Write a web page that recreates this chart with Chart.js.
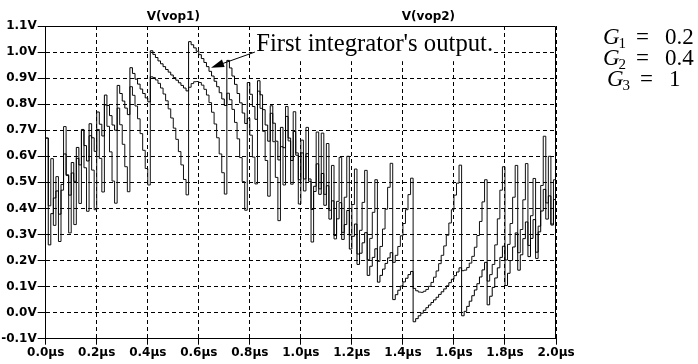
<!DOCTYPE html>
<html>
<head>
<meta charset="utf-8">
<script src="https://cdn.jsdelivr.net/npm/chart.js@4.4.1/dist/chart.umd.min.js"></script>
<style>
  html, body { margin: 0; padding: 0; background: #ffffff; }
  #wrap { width: 698px; height: 364px; position: relative; }
</style>
</head>
<body>
<div id="wrap"><canvas id="c"></canvas></div>
<script>
// Simulation sample period in microseconds (one held value per clock)
const STEP_US = 0.01;

// First integrator output, one value per clock period (V)
const vop1 = [
  0.670, 0.260, 0.380, 0.440, 0.467, 0.378, 0.492, 0.609, 0.529, 0.451,
  0.576, 0.504, 0.634, 0.567, 0.703, 0.641, 0.582, 0.725, 0.671, 0.619,
  0.770, 0.723, 0.678, 0.835, 0.795, 0.756, 0.720, 0.700, 0.872, 0.841,
  0.812, 0.785, 0.760, 0.940, 0.918, 0.896, 0.877, 0.858, 0.841, 0.824,
  0.809, 1.005, 0.991, 0.979, 0.966, 0.955, 0.944, 0.933, 0.923, 0.912,
  0.902, 0.892, 0.882, 0.872, 0.862, 0.851, 1.040, 1.028, 1.016, 1.003,
  0.990, 0.975, 0.960, 0.944, 0.926, 0.908, 0.888, 0.867, 0.844, 0.820,
  0.795, 0.968, 0.939, 0.908, 0.876, 0.841, 0.805, 0.766, 0.726, 0.883,
  0.838, 0.791, 0.742, 0.890, 0.836, 0.779, 0.720, 0.658, 0.794, 0.727,
  0.658, 0.586, 0.711, 0.633, 0.753, 0.670, 0.584, 0.695, 0.604, 0.510,
  0.613, 0.513, 0.610, 0.504, 0.396, 0.485, 0.571, 0.454, 0.534, 0.412,
  0.487, 0.359, 0.429, 0.296, 0.360, 0.422, 0.281, 0.338, 0.392, 0.244,
  0.293, 0.340, 0.185, 0.228, 0.268, 0.307, 0.143, 0.178, 0.212, 0.245,
  0.117, 0.143, 0.167, 0.189, 0.210, 0.230, 0.050, 0.069, 0.086, 0.102,
  0.118, 0.132, 0.146, 0.158, -0.035, -0.023, -0.012, -0.002, 0.009, 0.019,
  0.029, 0.039, 0.049, 0.059, 0.070, 0.080, 0.091, 0.103, 0.115, 0.128,
  0.142, 0.156, 0.172, -0.012, 0.005, 0.024, 0.044, 0.065, 0.087, 0.111,
  0.137, 0.164, 0.193, 0.030, 0.063, 0.097, 0.133, 0.172, 0.212, 0.255,
  0.104, 0.151, 0.200, 0.252, 0.306, 0.163, 0.222, 0.284, 0.348, 0.215,
  0.285, 0.357, 0.232, 0.310, 0.390, 0.473, 0.359, 0.448, 0.340, 0.434,
  0.331
];

// Second integrator output, one value per clock period (V)
const vop2 = [
  0.670, 0.410, 0.591, 0.335, 0.522, 0.273, 0.470, 0.714, 0.526, 0.306,
  0.536, 0.338, 0.592, 0.419, 0.700, 0.556, 0.389, 0.679, 0.547, 0.395,
  0.703, 0.592, 0.463, 0.797, 0.715, 0.617, 0.505, 0.420, 0.785, 0.721,
  0.646, 0.560, 0.464, 0.867, 0.834, 0.793, 0.744, 0.687, 0.623, 0.553,
  0.490, 0.905, 0.902, 0.893, 0.880, 0.862, 0.839, 0.813, 0.782, 0.747,
  0.708, 0.665, 0.618, 0.567, 0.511, 0.452, 0.865, 0.879, 0.886, 0.887,
  0.883, 0.873, 0.857, 0.835, 0.806, 0.769, 0.724, 0.671, 0.609, 0.537,
  0.455, 0.842, 0.817, 0.780, 0.730, 0.667, 0.595, 0.503, 0.393, 0.746,
  0.681, 0.597, 0.494, 0.850, 0.784, 0.696, 0.584, 0.447, 0.765, 0.656,
  0.519, 0.353, 0.637, 0.490, 0.791, 0.659, 0.493, 0.771, 0.613, 0.417,
  0.662, 0.467, 0.711, 0.513, 0.271, 0.465, 0.693, 0.475, 0.689, 0.454,
  0.649, 0.393, 0.565, 0.283, 0.427, 0.596, 0.308, 0.443, 0.600, 0.298,
  0.415, 0.551, 0.225, 0.316, 0.423, 0.546, 0.203, 0.285, 0.385, 0.510,
  0.197, 0.254, 0.321, 0.397, 0.481, 0.573, 0.193, 0.220, 0.254, 0.295,
  0.342, 0.395, 0.453, 0.516, 0.093, 0.084, 0.079, 0.078, 0.082, 0.089,
  0.101, 0.116, 0.136, 0.160, 0.188, 0.220, 0.256, 0.297, 0.344, 0.395,
  0.451, 0.497, 0.566, 0.161, 0.163, 0.173, 0.190, 0.216, 0.251, 0.296,
  0.350, 0.425, 0.510, 0.121, 0.146, 0.185, 0.260, 0.360, 0.470, 0.560,
  0.202, 0.262, 0.342, 0.443, 0.565, 0.230, 0.319, 0.433, 0.572, 0.258,
  0.372, 0.515, 0.208, 0.332, 0.488, 0.677, 0.421, 0.600, 0.336, 0.510,
  0.242
];

const traceNames = ['V(vop1)', 'V(vop2)'];
const gainRows = [
  { idx: '1', value: '0.2' },
  { idx: '2', value: '0.4' },
  { idx: '3', value: '1' }
];
const noteText = "First integrator's output.";
const timeUnit = 'µs';
const voltUnit = 'V';

// Sample instants (µs) for each held value
const time = vop1.map((_, i) => Math.round(i * STEP_US * 1000) / 1000);
const toPoints = arr => arr.map((v, i) => ({ x: time[i], y: v }));

const tickFont = { family: '"DejaVu Sans"', size: 12, weight: 'bold' };

const overlay = {
  id: 'overlay',
  beforeDatasetsDraw(chart) {
    const { ctx, chartArea: a, scales: { x, y } } = chart;
    ctx.save();
    // blank panel that carries the annotation text over the grid
    const bx0 = x.getPixelForValue(0.81);
    const bx1 = x.getPixelForValue(1.755);
    const by1 = y.getPixelForValue(0.965);
    ctx.fillStyle = '#ffffff';
    ctx.fillRect(bx0, a.top + 1, bx1 - bx0, by1 - a.top - 1);
    ctx.fillStyle = '#000000';
    ctx.font = '24.7px "Liberation Serif"';
    ctx.textAlign = 'left';
    ctx.textBaseline = 'alphabetic';
    ctx.fillText(noteText, x.getPixelForValue(0.825), y.getPixelForValue(1.0) - 1);
    ctx.restore();
  },
  afterDatasetsDraw(chart) {
    const { ctx, scales: { x, y } } = chart;
    // arrow from the note to the first integrator trace
    const x0 = x.getPixelForValue(0.82), y0 = y.getPixelForValue(1.0);
    const x1 = x.getPixelForValue(0.648), y1 = y.getPixelForValue(0.94);
    const ang = Math.atan2(y1 - y0, x1 - x0);
    const len = 13, half = 4;
    ctx.save();
    ctx.strokeStyle = '#000';
    ctx.fillStyle = '#000';
    ctx.lineWidth = 1;
    ctx.beginPath();
    ctx.moveTo(x0, y0);
    ctx.lineTo(x1 - Math.cos(ang) * len * 0.6, y1 - Math.sin(ang) * len * 0.6);
    ctx.stroke();
    ctx.beginPath();
    ctx.moveTo(x1, y1);
    ctx.lineTo(x1 - Math.cos(ang) * len - Math.sin(ang) * half, y1 - Math.sin(ang) * len + Math.cos(ang) * half);
    ctx.lineTo(x1 - Math.cos(ang) * len + Math.sin(ang) * half, y1 - Math.sin(ang) * len - Math.cos(ang) * half);
    ctx.closePath();
    ctx.fill();
    ctx.restore();
  },
  afterDraw(chart) {
    const { ctx, chartArea: a, scales: { x } } = chart;
    ctx.save();
    // frame: top and right edges of the plot
    ctx.strokeStyle = '#000';
    ctx.lineWidth = 1;
    ctx.beginPath();
    const top = Math.round(a.top) + 0.5;
    const right = Math.round(a.right) - 0.5;
    ctx.moveTo(a.left, top);
    ctx.lineTo(right, top);
    ctx.lineTo(right, a.bottom);
    ctx.stroke();

    // trace names above the plot
    ctx.fillStyle = '#000';
    ctx.font = 'bold 12px "DejaVu Sans"';
    ctx.textAlign = 'center';
    ctx.textBaseline = 'middle';
    ctx.fillText(traceNames[0], x.getPixelForValue(0.5), 16.5);
    ctx.fillText(traceNames[1], x.getPixelForValue(1.5), 16.5);

    // loop gains
    ctx.textAlign = 'left';
    ctx.textBaseline = 'alphabetic';
    gainRows.forEach((row, r) => {
      const gx = a.right + 47 + (r === 2 ? 4 : 0);
      const gy = 44 + r * 20.8;
      ctx.font = 'italic 23px "Liberation Serif"';
      ctx.fillText('G', gx, gy);
      const gw = ctx.measureText('G').width;
      ctx.font = '15px "Liberation Serif"';
      ctx.fillText(row.idx, gx + gw - 1, gy + 4);
      ctx.font = '23px "Liberation Serif"';
      ctx.fillText('=', gx + 33, gy);
      ctx.fillText(row.value, gx + 62, gy);
    });
    ctx.restore();
  }
};

new Chart(document.getElementById('c'), {
  type: 'line',
  data: {
    datasets: [
      {
        label: traceNames[0],
        data: toPoints(vop1),
        borderColor: '#000000',
        borderWidth: 1,
        pointRadius: 0,
        stepped: true,
        fill: false
      },
      {
        label: traceNames[1],
        data: toPoints(vop2),
        borderColor: '#111111',
        borderWidth: 1,
        pointRadius: 0,
        stepped: true,
        fill: false
      }
    ]
  },
  options: {
    responsive: true,
    maintainAspectRatio: false,
    animation: false,
    events: [],
    layout: { padding: { left: 0, right: 142, top: 26, bottom: 0 } },
    plugins: { legend: { display: false }, tooltip: { enabled: false } },
    scales: {
      x: {
        type: 'linear',
        min: 0,
        max: 2,
        afterFit: s => { s.height = 25.3; },
        grid: { color: '#000', lineWidth: 1, tickLength: 6, tickBorderDash: [] },
        border: { color: '#000', width: 1, dash: [4, 3] },
        ticks: {
          stepSize: 0.2,
          padding: 1,
          maxRotation: 0,
          color: '#000',
          font: tickFont,
          callback: v => v.toFixed(1) + timeUnit
        }
      },
      y: {
        type: 'linear',
        min: -0.1,
        max: 1.1,
        afterFit: s => { s.width = 45.7; },
        grid: { color: '#000', lineWidth: 1, tickLength: 8, tickBorderDash: [] },
        border: { color: '#000', width: 1, dash: [4, 3] },
        ticks: {
          stepSize: 0.1,
          padding: 1,
          color: '#000',
          font: tickFont,
          callback: v => v.toFixed(1) + voltUnit
        }
      }
    }
  },
  plugins: [overlay]
});
</script>
</body>
</html>
